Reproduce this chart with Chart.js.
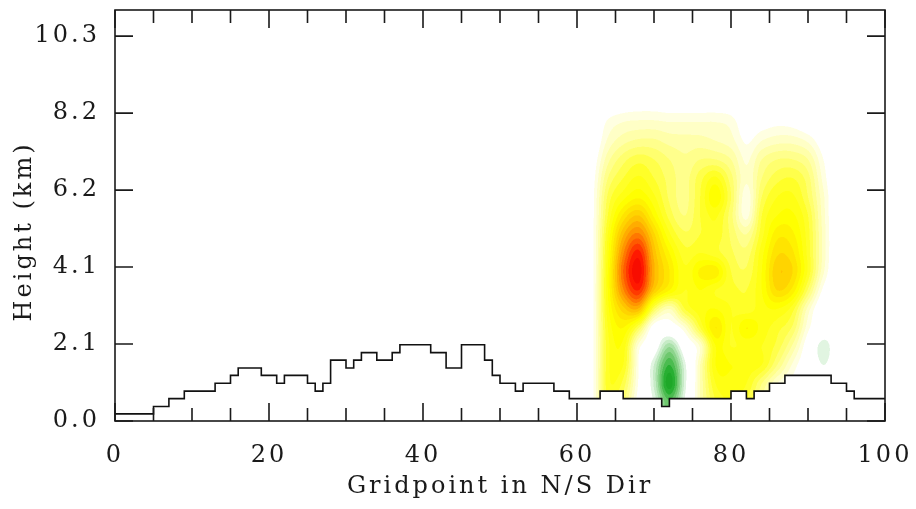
<!DOCTYPE html>
<html>
<head>
<meta charset="utf-8">
<script src="https://cdn.jsdelivr.net/npm/chart.js@4.4.1/dist/chart.umd.min.js"></script>
<style>
  html, body { margin: 0; background: #fff; }
  canvas { display: block; }
</style>
</head>
<body>
<canvas id="chart" width="916" height="509"></canvas>
<script>
const xTicks = [0, 20, 40, 60, 80, 100];
const xMinorTicks = [5, 10, 15, 25, 30, 35, 45, 50, 55, 65, 70, 75, 85, 90, 95];
const yTicks = [0, 2.06, 4.12, 6.18, 8.24, 10.3];

// terrain steps: height (km) holds from terrainX[i] to terrainX[i+1]
const terrainX = [0, 5, 7, 9, 13, 15, 16, 19, 21, 22, 25, 26, 27, 28, 30, 31, 32, 34, 36, 37, 41, 43,
  45, 48, 49, 50, 52, 53, 57, 59, 63, 66, 71, 72, 80, 82, 83, 85, 87, 93, 95, 96, 100];
const terrainH = [0.19, 0.39, 0.60, 0.80, 1.01, 1.22, 1.42, 1.22, 1.01, 1.22, 1.01, 0.80, 1.01, 1.63,
  1.42, 1.63, 1.83, 1.63, 1.83, 2.04, 1.83, 1.42, 2.04, 1.63, 1.22, 1.01, 0.80, 1.01, 0.80, 0.60,
  0.80, 0.60, 0.39, 0.60, 0.80, 0.60, 0.80, 1.01, 1.22, 1.01, 0.80, 0.60, 0.60];

// contoured field, sampled on a coarse grid (rows from top to bottom)
const fieldX = [60, 62, 64, 66, 68, 70, 72, 74, 76, 78, 80, 82, 84, 86, 88, 90, 92, 94, 96];
const fieldY = [9.0, 8.5, 8.0, 7.5, 7.0, 6.5, 6.0, 5.5, 5.0, 4.5, 4.0, 3.5, 3.0, 2.5, 2.0, 1.5, 1.0, 0.5];
const fieldValues = [
  [0, 0, 0, 0, 0, 0, 0, 0, 0, 0, 0, 0, 0, 0, 0, 0, 0, 0, 0],
  [0, 0, 0.3, 0.5, 0.6, 0.6, 0.5, 0.5, 0.5, 0.5, 0.4, 0, 0, 0, 0, 0, 0, 0, 0],
  [0, 0.1, 1.1, 1.5, 1.6, 1.6, 1.5, 1.5, 1.5, 1.5, 1.3, 0.4, 0.6, 0.8, 0.7, 0.3, 0, 0, 0],
  [0, 0.2, 1.6, 2.3, 2.6, 2.6, 2.3, 2.2, 2.2, 2.0, 1.7, 0.9, 1.5, 1.8, 1.8, 1.4, 0.5, 0, 0],
  [0, 0.5, 2.3, 3.3, 3.8, 3.5, 3.0, 2.6, 3.0, 3.0, 2.5, 1.4, 2.5, 3.0, 3.0, 2.5, 1.0, 0, 0],
  [0, 0.7, 3.0, 4.0, 4.6, 4.0, 3.3, 2.8, 3.8, 4.6, 3.2, 1.6, 3.0, 3.8, 4.0, 3.2, 1.3, 0, 0],
  [0, 0.8, 3.6, 4.8, 5.4, 4.6, 3.4, 2.8, 4.0, 5.4, 3.5, 1.2, 3.5, 4.5, 4.6, 3.5, 1.6, 0, 0],
  [0, 0.8, 4.0, 6.1, 7.0, 5.4, 3.8, 3.0, 4.0, 4.6, 3.2, 1.3, 4.0, 5.0, 5.1, 4.0, 1.7, 0, 0],
  [0, 0.8, 4.5, 7.4, 8.6, 6.6, 4.6, 3.6, 4.0, 4.3, 3.4, 2.5, 4.3, 5.8, 5.6, 4.2, 1.8, 0, 0],
  [0, 0.8, 4.8, 8.4, 10.2, 7.3, 5.5, 4.2, 4.5, 4.2, 3.6, 3.2, 4.8, 6.4, 6.1, 4.3, 1.8, 0, 0],
  [0, 0.8, 5.0, 9.0, 10.8, 7.6, 6.0, 4.6, 5.6, 5.8, 4.0, 3.6, 5.0, 6.9, 6.5, 4.4, 1.6, 0, 0],
  [0, 0.8, 5.0, 8.4, 10.0, 7.0, 5.5, 4.5, 5.0, 4.5, 4.2, 4.0, 5.0, 6.5, 5.8, 3.4, 0.8, 0, 0],
  [0, 0.8, 4.8, 6.8, 7.4, 3.6, 2.0, 4.0, 4.8, 5.0, 4.5, 4.2, 4.8, 5.0, 4.2, 1.8, 0.1, 0, 0],
  [0, 0.8, 4.5, 5.5, 3.6, 0.5, 0.3, 1.5, 4.0, 6.0, 4.5, 5.5, 4.8, 4.2, 3.4, 1.2, 0, 0, 0],
  [0, 0.8, 4.3, 4.8, 1.3, -0.2, -2.4, -0.1, 1.6, 5.0, 4.5, 4.6, 4.5, 3.8, 2.4, 0.4, -1.4, 0, 0],
  [0, 0.8, 4.3, 4.5, 1.0, -1.5, -4.0, -1.2, 2.0, 5.0, 5.0, 4.8, 4.5, 3.0, 1.4, 0.2, -1.0, 0, 0],
  [0, 0.8, 4.3, 3.8, 0.9, -1.6, -4.8, -1.3, 2.0, 4.5, 4.8, 4.5, 3.0, 1.5, 0.8, 0, 0, 0, 0],
  [0, 0.8, 4.0, 3.2, 0.6, -1.1, -3.4, -0.9, 2.0, 4.0, 4.5, 4.0, 2.5, 1.2, 0.5, 0, 0, 0, 0]
];

const posStops = [
  [1, [255, 255, 225]], [2, [255, 255, 170]], [3, [255, 255, 110]], [4, [255, 255, 40]],
  [5, [255, 255, 0]], [6, [255, 228, 0]], [7, [255, 195, 0]], [8, [255, 150, 0]],
  [9, [255, 90, 0]], [10, [255, 25, 0]], [11, [240, 0, 0]]
];
const negStops = [
  [1, [225, 245, 225]], [2, [170, 225, 170]], [3, [110, 200, 110]], [4, [40, 175, 50]], [5, [20, 160, 30]]
];

function ramp(stops, v) {
  if (v <= stops[0][0]) return stops[0][1];
  for (let i = 1; i < stops.length; i++) {
    if (v <= stops[i][0]) {
      const t = (v - stops[i - 1][0]) / (stops[i][0] - stops[i - 1][0]);
      const a = stops[i - 1][1], b = stops[i][1];
      return [0, 1, 2].map(k => a[k] + (b[k] - a[k]) * t);
    }
  }
  return stops[stops.length - 1][1];
}

function colorFor(v) {
  const q = v > 0 ? Math.floor(v * 2) / 2 : Math.ceil(v * 2) / 2;
  if (q >= 1) return ramp(posStops, q);
  if (q <= -1) return ramp(negStops, -q);
  return null;
}

function cubic(p0, p1, p2, p3, t) {
  return p1 + 0.5 * t * (p2 - p0 + t * (2 * p0 - 5 * p1 + 4 * p2 - p3 + t * (3 * (p1 - p2) + p3 - p0)));
}

function fieldAt(gx, km) {
  const nx = fieldX.length, ny = fieldY.length;
  const fx = (gx - fieldX[0]) / (fieldX[1] - fieldX[0]);
  let fy = (km - fieldY[0]) / (fieldY[1] - fieldY[0]);
  if (fx < 0 || fx > nx - 1 || fy < 0) return 0;
  fy = Math.min(fy, ny - 1);
  const i = Math.min(Math.floor(fx), nx - 2), j = Math.min(Math.floor(fy), ny - 2);
  const tx = fx - i, ty = fy - j;
  const rows = [];
  for (let k = -1; k <= 2; k++) {
    const r = fieldValues[Math.max(0, Math.min(ny - 1, j + k))];
    const at = n => r[Math.max(0, Math.min(nx - 1, n))];
    rows.push(cubic(at(i - 1), at(i), at(i + 1), at(i + 2), tx));
  }
  return cubic(rows[0], rows[1], rows[2], rows[3], ty);
}

function terrainAt(gx) {
  let h = terrainH[0];
  for (let i = 0; i < terrainX.length; i++) {
    if (terrainX[i] <= gx) h = terrainH[i];
  }
  return h;
}

const spacing = {
  id: 'spacing',
  beforeUpdate(chart) { chart.ctx.letterSpacing = '3px'; },
  beforeDraw(chart) { chart.ctx.letterSpacing = '3px'; }
};

const heatmap = {
  id: 'heatmap',
  beforeDatasetsDraw(chart) {
    const { ctx, chartArea: a, scales: { x, y } } = chart;
    const ss = 2;
    const w = Math.round(a.right - a.left) * ss, h = Math.round(a.bottom - a.top) * ss;
    const off = document.createElement('canvas');
    off.width = w; off.height = h;
    const octx = off.getContext('2d');
    const img = octx.createImageData(w, h);
    const kms = [];
    for (let r = 0; r < h; r++) kms.push(y.getValueForPixel(a.top + (r + 0.5) / ss));
    for (let c = 0; c < w; c++) {
      const gx = x.getValueForPixel(a.left + (c + 0.5) / ss);
      if (gx < fieldX[0] || gx > fieldX[fieldX.length - 1]) continue;
      const ground = terrainAt(gx);
      for (let r = 0; r < h; r++) {
        if (kms[r] < ground) continue;
        const col = colorFor(fieldAt(gx, kms[r]));
        if (!col) continue;
        const p = (r * w + c) * 4;
        img.data[p] = col[0]; img.data[p + 1] = col[1]; img.data[p + 2] = col[2]; img.data[p + 3] = 255;
      }
    }
    octx.putImageData(img, 0, 0);
    ctx.save();
    ctx.imageSmoothingEnabled = true;
    ctx.drawImage(off, a.left, a.top, w / ss, h / ss);
    ctx.restore();
  }
};

const frame = {
  id: 'frame',
  afterDraw(chart) {
    const { ctx, chartArea: a, scales: { x, y } } = chart;
    ctx.save();
    ctx.strokeStyle = '#1a1a1a';
    ctx.lineWidth = 1.6;
    ctx.beginPath();
    const tick = (px, len) => {
      ctx.moveTo(px, a.bottom); ctx.lineTo(px, a.bottom - len);
      ctx.moveTo(px, a.top); ctx.lineTo(px, a.top + len);
    };
    xTicks.forEach(v => tick(x.getPixelForValue(v), 18));
    xMinorTicks.forEach(v => tick(x.getPixelForValue(v), 13));
    yTicks.forEach(v => {
      const py = y.getPixelForValue(v);
      ctx.moveTo(a.left, py); ctx.lineTo(a.left + 18, py);
      ctx.moveTo(a.right, py); ctx.lineTo(a.right - 18, py);
    });
    ctx.stroke();
    ctx.strokeRect(a.left, a.top, a.right - a.left, a.bottom - a.top);
    ctx.restore();
  }
};

Chart.defaults.font.family = "'DejaVu Serif', serif";
Chart.defaults.font.size = 24;
Chart.defaults.color = '#1a1a1a';

new Chart(document.getElementById('chart'), {
  type: 'line',
  data: {
    datasets: [{
      data: terrainX.map((v, i) => ({ x: v, y: terrainH[i] })),
      stepped: true,
      borderColor: '#111',
      borderWidth: 1.6,
      pointRadius: 0,
      fill: false
    }]
  },
  options: {
    responsive: false,
    animation: false,
    layout: { padding: { top: 10, right: 31, left: 0, bottom: 0 } },
    plugins: { legend: { display: false }, tooltip: { enabled: false } },
    scales: {
      x: {
        type: 'linear', min: 0, max: 100,
        grid: { display: false, drawTicks: false },
        border: { display: false },
        ticks: { padding: 20, maxRotation: 0, autoSkip: false },
        afterBuildTicks: s => { s.ticks = xTicks.map(v => ({ value: v })); },
        afterFit: s => { s.height = 88; s.paddingLeft = 0; s.paddingRight = 0; },
        title: { display: true, text: 'Gridpoint in N/S Dir', padding: { top: 0, bottom: 8 } }
      },
      y: {
        type: 'linear', min: 0, max: 11,
        grid: { display: false, drawTicks: false },
        border: { display: false },
        ticks: { padding: 15, autoSkip: false, callback: v => v.toFixed(1) },
        afterBuildTicks: s => { s.ticks = yTicks.map(v => ({ value: v })); },
        afterFit: s => { s.width = 115; s.paddingTop = 0; s.paddingBottom = 0; },
        title: { display: true, text: 'Height (km)   ', padding: { top: 10, bottom: 0 } }
      }
    }
  },
  plugins: [spacing, heatmap, frame]
});
</script>
</body>
</html>
